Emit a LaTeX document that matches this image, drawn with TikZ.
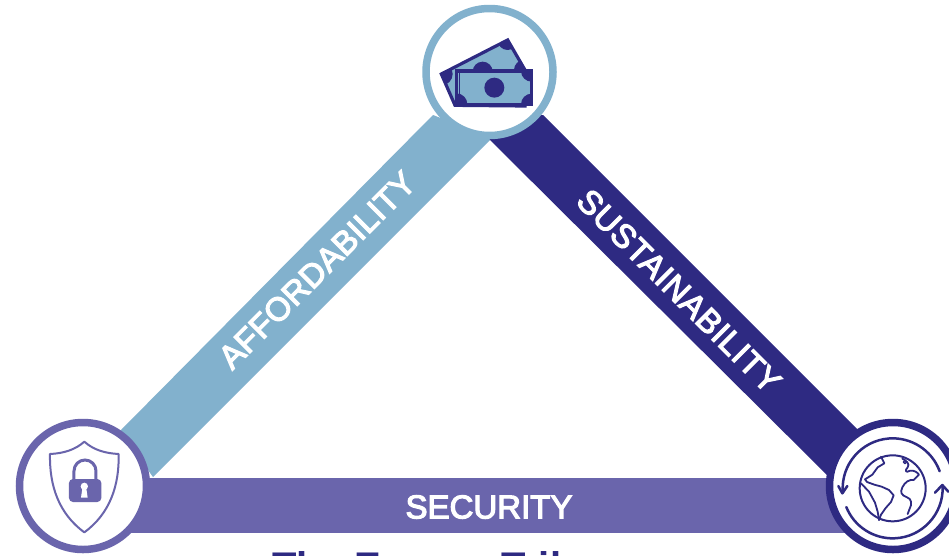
\documentclass[tikz,border=0pt]{standalone}
\usepackage{fontspec}
\setmainfont{Liberation Sans}
\newfontfamily\secfont[FakeBold=3.5]{Liberation Sans}
\newfontfamily\afffont[FakeBold=3.5,LetterSpace=1]{Liberation Sans}
\newfontfamily\susfont[FakeBold=3.5,LetterSpace=2]{Liberation Sans}
\definecolor{lightb}{HTML}{82B1CD}
\definecolor{navy}{HTML}{2E2A82}
\definecolor{purp}{HTML}{6A65AC}
\tikzset{
  ring/.style={circle,draw=#1,line width=7.5pt,fill=white,minimum size=127pt,inner sep=0pt},
  barlabel/.style={text=white,inner sep=0pt,anchor=center},
  globeline/.style={navy,line width=2pt,line join=round,line cap=round},
  arrowline/.style={navy,line width=2.5pt,line join=round,line cap=round},
}
\begin{document}
\begin{tikzpicture}[x=1pt,y=-1pt]
\clip (0,0) rectangle (949,555);
\fill[white] (0,0) rectangle (949,555);
% bars
\fill[lightb] (433,115) -- (492,138) -- (490,140) -- (153,477) -- (120,431) -- cycle;
\fill[navy] (543,115) -- (860,432) -- (830,478) -- (490,140) -- (480,120) -- cycle;
\fill[purp] (120,478) rectangle (860,533);
% rings
\node[ring=lightb] (top) at (489.5,72) {};
\node[ring=purp] (left) at (83,486) {};
\node[ring=navy] (right) at (893,486) {};
% labels
\node[barlabel,rotate=45] (aff) at (317,270) {\afffont\fontsize{33}{36}\selectfont AFFORDABILITY};
\node[barlabel,rotate=-45] (sus) at (679,291) {\susfont\fontsize{33}{36}\selectfont SUSTAINABILITY};
\node[barlabel] (sec) at (489,507) {\secfont\fontsize{33}{36}\selectfont SECURITY};
\node[text=navy,anchor=base west,inner sep=0pt] (title) at (272,580) {\fontsize{40}{44}\selectfont\bfseries The Energy Trilemma};
% money icon
\begin{scope}[shift={(400,0)},x=0.3333pt,y=-0.3333pt]
  \path[fill=lightb,draw=navy,line width=3.2pt,line join=miter] (124,222) -- (323,120) -- (375,210) -- (375,318) -- (165,316) -- cycle;
  \begin{scope}
    \clip (124,222) -- (323,120) -- (375,210) -- (165,316) -- cycle;
    \fill[navy] (248,215) circle (30);
    \fill[navy] (323,120) circle (30);
    \fill[navy] (124,222) circle (34);
    \fill[navy] (372,210) circle (30);
  \end{scope}
  \path[fill=lightb,draw=navy,line width=3.4pt,line join=miter] (169,213) rectangle (395,313);
  \begin{scope}
    \clip (169,213) rectangle (395,313);
    \fill[navy] (169,313) circle (33);
    \fill[navy] (395,213) circle (32);
    \fill[navy] (395,313) circle (32);
  \end{scope}
  \draw[navy,line width=0.9pt] (177,218) -- (177,308);
  \fill[navy] (283,263) circle (30);
\end{scope}
% shield icon
\begin{scope}[shift={(0,405)},x=0.3333pt,y=-0.3333pt]
  \draw[purp,line width=2pt,line join=round] (253,110) .. controls (225,135) and (190,145) .. (150,147) .. controls (148,240) and (175,325) .. (253,382) .. controls (331,325) and (358,240) .. (356,147) .. controls (316,145) and (281,135) .. (253,110) -- cycle;
  \draw[purp,line width=3pt] (222,225) -- (222,198) arc[start angle=180,end angle=360,radius=33] -- (288,225);
  \fill[purp,rounded corners=4pt] (207,222) rectangle (304,291);
  \fill[white] (253,244) circle (11);
  \fill[white] (248,244) -- (258,244) -- (263,278) -- (243,278) -- cycle;
\end{scope}
% globe icon
\begin{scope}[shift={(855,440)},x=0.3333pt,y=-0.3333pt]
  \draw[globeline] (113,145) circle (99);
  \draw[globeline,line width=1.8pt] (78,50) -- (88,70) -- (68,82) -- (52,104) -- (30,118) -- (36,126) -- (58,134) -- (80,140) -- (102,150) -- (116,166) -- (108,186) -- (92,204) -- (78,224) -- (72,240);
  \draw[globeline,line width=1.8pt] (18,130) -- (42,155) -- (60,188) -- (68,215) -- (72,240);
  \draw[globeline,line width=1.8pt] (142,56) .. controls (155,62) and (165,72) .. (158,82) .. controls (148,92) and (152,100) .. (165,92) .. controls (178,90) and (188,98) .. (192,104) .. controls (185,110) and (180,116) .. (176,120) .. controls (162,118) and (150,126) .. (142,142) .. controls (134,158) and (140,166) .. (156,172) .. controls (170,176) and (172,192) .. (164,206) -- (158,222);
  \draw[globeline,line width=1.5pt] (150,66) circle (5);
  \draw[arrowline] (113,145) ++(175.5:150) arc[start angle=175.5,end angle=340,radius=150];
  \draw[arrowline] (-50,138) -- (-38,160) -- (-23,138);
  \draw[arrowline] (113,145) ++(-2:150) arc[start angle=-2,end angle=158,radius=150];
  \draw[arrowline] (240,158) -- (262,135) -- (280,155);
\end{scope}
\end{tikzpicture}
\end{document}
